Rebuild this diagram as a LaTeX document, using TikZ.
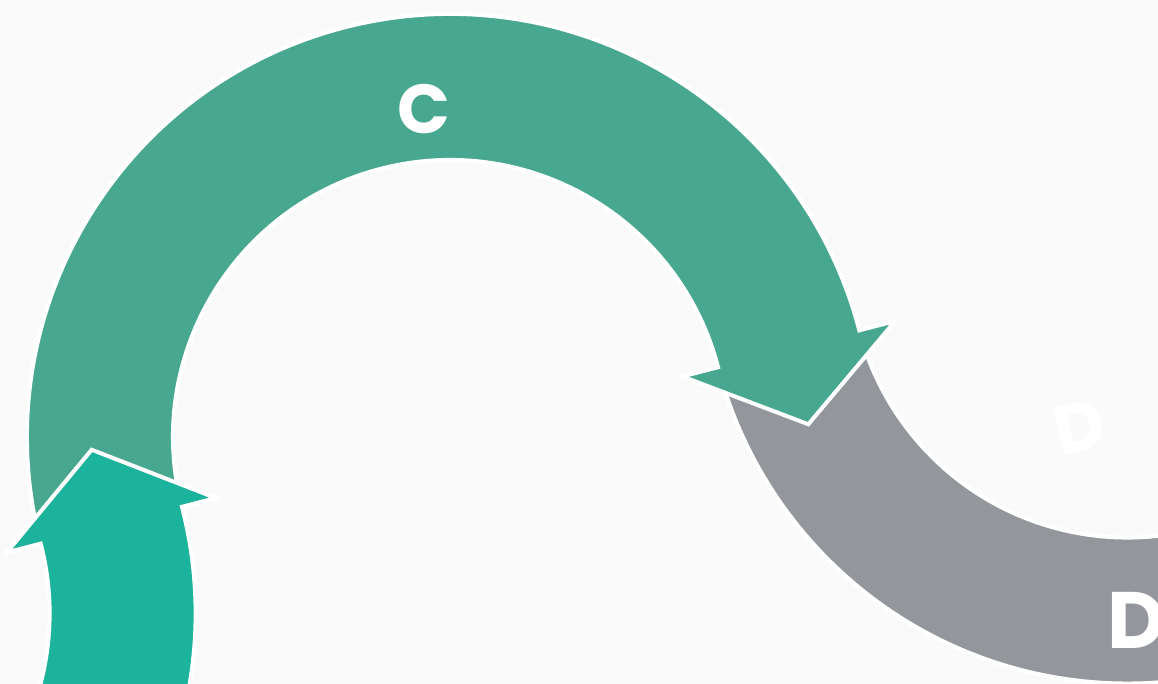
\documentclass[tikz,border=0pt]{standalone}
\usepackage{fontspec}
\setmainfont{Poppins}
\usetikzlibrary{calc}
\definecolor{bgcol}{HTML}{FAFAFA}
\definecolor{segB}{HTML}{1BB39B}
\definecolor{segC}{HTML}{48A88F}
\definecolor{segD}{HTML}{93979B}
\newcommand{\tang}{14.6}

\begin{document}
\begin{tikzpicture}[
  x=0.75pt,y=0.75pt,
  band/.style={draw=white,line width=3pt,line join=miter},
  lab/.style={text=white,inner sep=0pt,font=\bfseries\fontsize{52}{52}\selectfont},
  biglab/.style={lab,font=\bfseries\fontsize{60}{60}\selectfont}
]
\clip (0,0) rectangle (1158,684);
\fill[bgcol] (0,0) rectangle (1158,684);
\coordinate (arcC) at (450,247);
\coordinate (arcD) at ($(arcC)+(\tang:700)$);
\coordinate (arcB) at ($(arcC)+(180+\tang:700)$);
\path[band,fill=segD] ($(arcD)+(180+\tang:423)$) arc[start angle=180+\tang,end angle=300,radius=423]
  -- ($(arcD)+(300:277)$) arc[start angle=300,end angle=180+\tang,radius=277] -- cycle;
\path[band,fill=segC] ($(arcC)+(180+\tang:423)$) arc[start angle=180+\tang,end angle=\tang,radius=423]
  -- ($(arcC)+(\tang:460)$) -- ($(arcC)+(\tang:350)+(\tang-90:78)$) -- ($(arcC)+(\tang:240)$)
  -- ($(arcC)+(\tang:277)$) arc[start angle=\tang,end angle=180+\tang,radius=277] -- cycle;
\path[band,fill=segB] ($(arcB)+(-40:423)$) arc[start angle=-40,end angle=\tang,radius=423]
  -- ($(arcB)+(\tang:458)$) -- ($(arcB)+(\tang:350)+(\tang+90:78)$) -- ($(arcB)+(\tang:242)$)
  -- ($(arcB)+(\tang:277)$) arc[start angle=\tang,end angle=-40,radius=277] -- cycle;
\node[lab] (labC) at (424,575) {C};
\node[lab,rotate=13] (ghostD) at (1080,257) {D};
\node[biglab] (labD) at (1137,64) {D};
\end{tikzpicture}
\end{document}
